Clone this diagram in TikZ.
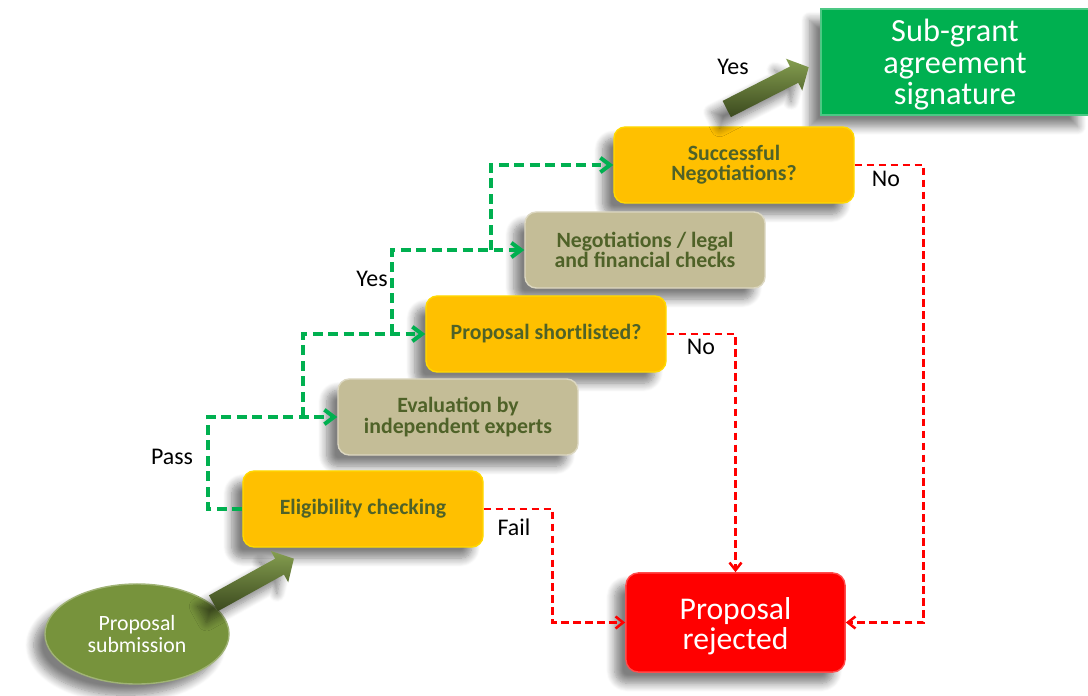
\documentclass[tikz,border=0pt]{standalone}
\usepackage{fontspec}
\setmainfont{Carlito}
\usetikzlibrary{arrows.meta,shapes.arrows,shapes.geometric,shadows.blur}
\definecolor{amber}{HTML}{FFC000}
\definecolor{tanbox}{HTML}{C4BD97}
\definecolor{olivetext}{HTML}{4F6228}
\definecolor{olivefill}{HTML}{77933C}
\definecolor{signgreen}{HTML}{00B050}
\definecolor{rejred}{HTML}{FF0000}
\begin{document}
\begin{tikzpicture}[x=0.025cm, y=-0.025cm,
    boxshadow/.style={blur shadow={shadow xshift=-8pt, shadow yshift=-8pt, shadow opacity=50, shadow blur steps=10, shadow blur radius=6pt}},
    stagebox/.style={rectangle, rounded corners=8pt, boxshadow, align=center, text=olivetext,
        font=\fontsize{15.5}{14.5}\selectfont\bfseries, minimum width=6cm, minimum height=1.9cm},
    qbox/.style={stagebox, fill=amber, draw=amber!60!yellow, line width=1pt},
    workbox/.style={stagebox, fill=tanbox, draw=tanbox!60!white, line width=1pt},
    bigarrow/.style={single arrow, minimum height=2.3cm, inner sep=0pt, inner ysep=0.22cm,
        single arrow head extend=0.22cm, single arrow tip angle=95, top color=olivefill!90!white, bottom color=olivetext!75!black, boxshadow},
    yesline/.style={signgreen, line width=2.8pt, dash pattern=on 7pt off 4pt,
        -{Straight Barb[length=2.4mm, width=3.6mm]}},
    noline/.style={rejred, line width=1.8pt, dash pattern=on 5.5pt off 3pt,
        -{Straight Barb[length=1.9mm, width=3mm]}},
    lbl/.style={font=\fontsize{17}{20}\selectfont}]

    \useasboundingbox (0,0) rectangle (1088,696);

    % Start and end
    \node[ellipse, fill=olivefill, draw=olivefill!70!white, line width=1pt, boxshadow, text=white, align=center,
        minimum width=4.6cm, minimum height=2.5cm, font=\fontsize{15.5}{15}\selectfont] (submit) at (137,634) {Proposal\\submission};
    \node[rectangle, fill=signgreen, draw=signgreen!70!white, line width=1pt, boxshadow, text=white, align=center,
        minimum width=6.7cm, minimum height=2.5cm, font=\fontsize{23}{22.5}\selectfont] (sign) at (955,62) {\rule{0pt}{20pt}Sub-grant\\agreement\\signature};
    \node[rectangle, rounded corners=9pt, fill=rejred, draw=rejred!70!white, line width=1pt, boxshadow, text=white, align=center,
        minimum width=5.48cm, minimum height=2.48cm, font=\fontsize{22.5}{21.5}\selectfont] (reject) at (735.5,622.5) {\rule{0pt}{21pt}Proposal\\rejected};

    % Steps, top one first so shadows fall behind the lower ones
    \node[qbox] (succ) at (734,165) {Successful\\Negotiations?};
    \node[workbox] (nego) at (645,250) {Negotiations / legal\\and financial checks};
    \node[qbox] (short) at (546,334) {Proposal shortlisted?};
    \node[workbox] (eval) at (458,417) {Evaluation by\\independent experts};
    \node[qbox] (elig) at (363,509) {Eligibility checking};

    % Big arrows
    \node[bigarrow, rotate=29] (arrA) at (250,583) {};
    \node[bigarrow, rotate=27] (arrB) at (764,90) {};
    \node[lbl] (yesB) at (733,67) {Yes};

    % Green path
    \coordinate (j1) at (303,417);
    \coordinate (j2) at (392,334);
    \coordinate (j3) at (491,250);
    \draw[yesline] (elig.west) -- ++(-34,0) |- (eval.west);
    \draw[yesline] (j1) |- (short.west);
    \draw[yesline] (j2) |- (nego.west);
    \draw[yesline] (j3) |- (succ.west);
    \node[lbl] (pass) at (172,457) {Pass};
    \node[lbl] (yesA) at (372,279) {Yes};

    % Red path
    \draw[noline] (elig.east) -- ++(69,0) |- (reject.west);
    \draw[noline] (short.east) -| (reject.north);
    \draw[noline] (succ.east) -- ++(69,0) |- (reject.east);
    \node[lbl] (fail) at (514,527) {Fail};
    \node[lbl] (noA) at (701,347) {No};
    \node[lbl] (noB) at (886,179) {No};

\end{tikzpicture}
\end{document}
